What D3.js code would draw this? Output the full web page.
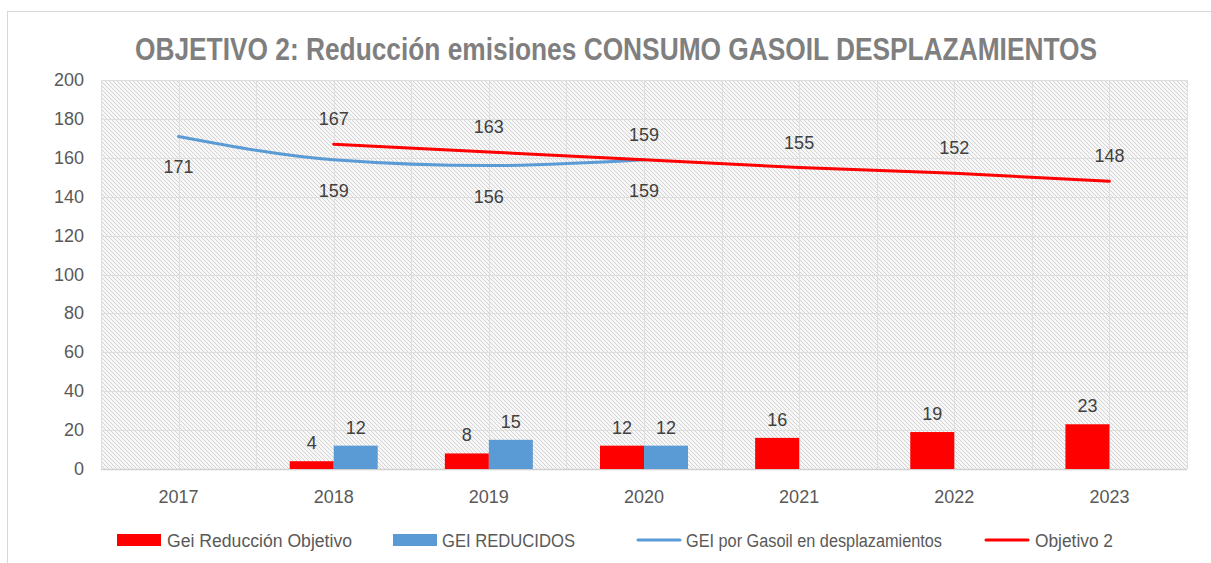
<!DOCTYPE html>
<html><head><meta charset="utf-8">
<script src="https://cdn.jsdelivr.net/npm/d3@7"></script>
<style>body{margin:0;background:#fff;} svg{display:block;}</style>
</head><body>
<script>
const years = ["2017","2018","2019","2020","2021","2022","2023"];
const redBars = [null,4,8,12,16,19,23];
const blueBars = [null,12,15,12,null,null,null];
const gasoilLine = [171,159,156,159,null,null,null];
const objetivoLine = [null,167,163,159,155,152,148];
const yTicks = [0,20,40,60,80,100,120,140,160,180,200];
const seriesNames = ["Gei Reducción Objetivo","GEI REDUCIDOS","GEI por Gasoil en desplazamientos","Objetivo 2"];
const title = "OBJETIVO 2: Reducción emisiones CONSUMO GASOIL DESPLAZAMIENTOS";

const W=1211,H=563;
const FONT = "'Liberation Sans Narrow','Arial Narrow','Liberation Sans',Arial,sans-serif";
const svg=d3.select("body").append("svg").attr("width",W).attr("height",H);
const defs=svg.append("defs");
const pat=defs.append("pattern").attr("id","hatch").attr("patternUnits","userSpaceOnUse")
  .attr("width",4).attr("height",4);
pat.append("rect").attr("width",4).attr("height",4).attr("fill","#f7f7f7");
pat.append("path").attr("d","M-1,-1 L5,5 M-1,3 L1,5 M3,-1 L5,1").attr("stroke","#d3d3d3").attr("stroke-width",1);

// chart border
svg.append("rect").attr("x",7.5).attr("y",11.5).attr("width",1220).attr("height",570)
  .attr("fill","#fff").attr("stroke","#d9d9d9");

const L=101,R=1187,T=80,B=469;
const x=d3.scaleBand().domain(years).range([L,R]).padding(0);
const y=d3.scaleLinear().domain([0,200]).range([B,T]);
const bw=44;

svg.append("rect").attr("x",L).attr("y",T).attr("width",R-L).attr("height",B-T).attr("fill","url(#hatch)");

// grid
const g=svg.append("g");
g.selectAll("line.h").data(yTicks).join("line").attr("x1",L).attr("x2",R)
  .attr("y1",d=>Math.round(y(d))+0.5).attr("y2",d=>Math.round(y(d))+0.5).attr("stroke","#dedede");
const vx=[];
years.forEach(d=>{vx.push(x(d));vx.push(x(d)+x.bandwidth()/2);});vx.push(R);
g.selectAll("line.v").data(vx).join("line").attr("y1",T).attr("y2",B)
  .attr("x1",d=>Math.round(d)+0.5).attr("x2",d=>Math.round(d)+0.5).attr("stroke","#dedede");
svg.append("line").attr("x1",L).attr("x2",R).attr("y1",B+0.5).attr("y2",B+0.5).attr("stroke","#d0d0d0").attr("stroke-width",1.5);

// y axis labels
svg.selectAll("text.yt").data(yTicks).join("text").attr("x",84).attr("y",d=>y(d)+6)
  .attr("text-anchor","end").attr("font-family",FONT).attr("font-size",18).attr("fill","#595959").text(d=>d);
// x labels
svg.selectAll("text.xt").data(years).join("text").attr("x",d=>x(d)+x.bandwidth()/2).attr("y",503)
  .attr("text-anchor","middle").attr("font-family",FONT).attr("font-size",18).attr("fill","#595959").text(d=>d);

// bars
const cx=d=>x(d)+x.bandwidth()/2;
const rb=years.map((d,i)=>({d,v:redBars[i]})).filter(o=>o.v!=null);
const bb=years.map((d,i)=>({d,v:blueBars[i]})).filter(o=>o.v!=null);
svg.selectAll("rect.r").data(rb).join("rect").attr("x",o=>cx(o.d)-bw).attr("width",bw)
  .attr("y",o=>y(o.v)).attr("height",o=>B-y(o.v)).attr("fill","#ff0000");
svg.selectAll("rect.b").data(bb).join("rect").attr("x",o=>cx(o.d)).attr("width",bw)
  .attr("y",o=>y(o.v)).attr("height",o=>B-y(o.v)).attr("fill","#5b9bd5");
const lab={"font-family":FONT,"font-size":18,"fill":"#404040","text-anchor":"middle"};
function applyLab(s){Object.entries(lab).forEach(([k,v])=>s.attr(k,v));return s;}
applyLab(svg.selectAll("text.rl").data(rb).join("text").attr("x",o=>cx(o.d)-bw/2).attr("y",o=>y(o.v)-12).text(o=>o.v));
applyLab(svg.selectAll("text.bl").data(bb).join("text").attr("x",o=>cx(o.d)+bw/2).attr("y",o=>y(o.v)-12).text(o=>o.v));

// lines
const gl=years.map((d,i)=>({d,v:gasoilLine[i]})).filter(o=>o.v!=null);
const ol=years.map((d,i)=>({d,v:objetivoLine[i]})).filter(o=>o.v!=null);
svg.append("path").datum(gl).attr("d",d3.line().x(o=>cx(o.d)).y(o=>y(o.v)).curve(d3.curveMonotoneX)).attr("fill","none")
  .attr("stroke","#5b9bd5").attr("stroke-width",3).attr("stroke-linecap","round");
svg.append("path").datum(ol).attr("d",d3.line().x(o=>cx(o.d)).y(o=>y(o.v))).attr("fill","none")
  .attr("stroke","#ff0000").attr("stroke-width",3).attr("stroke-linecap","round");
applyLab(svg.selectAll("text.gl").data(gl).join("text").attr("x",o=>cx(o.d)).attr("y",o=>y(o.v)+37).text(o=>o.v));
applyLab(svg.selectAll("text.ol").data(ol).join("text").attr("x",o=>cx(o.d)).attr("y",o=>y(o.v)-19).text(o=>o.v));

// title
svg.append("text").attr("x",616).attr("y",60).attr("text-anchor","middle").attr("font-family",FONT)
  .attr("font-weight","bold").attr("font-size",32).attr("fill","#7f7f7f")
  .attr("textLength",962).attr("lengthAdjust","spacingAndGlyphs").text(title);

// legend
const leg=[{x:117,t:"rect",c:"#ff0000",tx:167,w:185},{x:393,t:"rect",c:"#5b9bd5",tx:442,w:133},
  {x:637,t:"line",c:"#5b9bd5",tx:686,w:256},{x:985,t:"line",c:"#ff0000",tx:1035,w:78}];
leg.forEach((l,i)=>{
  if(l.t==="rect") svg.append("rect").attr("x",l.x).attr("y",534).attr("width",44).attr("height",12).attr("fill",l.c);
  else svg.append("line").attr("x1",l.x+1).attr("x2",l.x+43).attr("y1",540).attr("y2",540).attr("stroke",l.c).attr("stroke-width",3).attr("stroke-linecap","round");
  svg.append("text").attr("x",l.tx).attr("y",547).attr("font-family",FONT).attr("font-size",18).attr("fill","#595959")
    .attr("textLength",l.w).attr("lengthAdjust","spacingAndGlyphs").text(seriesNames[i]);
});
</script>
</body></html>
